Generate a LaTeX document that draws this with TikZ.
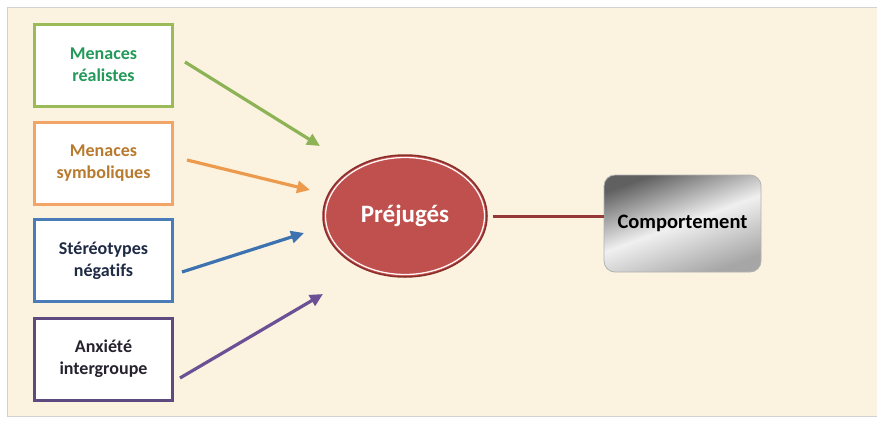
\documentclass[tikz,border=0pt]{standalone}
\usepackage{fontspec}
\setmainfont{Carlito}[Ligatures=NoCommon]
\usetikzlibrary{arrows.meta,shapes.geometric,shadows}
\definecolor{panel}{HTML}{FBF3DF}
\definecolor{gbord}{HTML}{9BBB59}
\definecolor{gtext}{HTML}{23995A}
\definecolor{obord}{HTML}{F2A566}
\definecolor{otext}{HTML}{B87A2E}
\definecolor{bbord}{HTML}{4A7DB8}
\definecolor{btext}{HTML}{1F2A44}
\definecolor{pbord}{HTML}{5F4A80}
\definecolor{ptext}{HTML}{26232E}
\definecolor{garrow}{HTML}{8DB356}
\definecolor{oarrow}{HTML}{EC9A4E}
\definecolor{barrow}{HTML}{3D72B0}
\definecolor{parrow}{HTML}{6C5096}
\definecolor{prejfill}{HTML}{C0504D}
\definecolor{prejdark}{HTML}{8A2E2C}
\definecolor{linkred}{HTML}{953838}
\begin{document}
\begin{tikzpicture}[x=1pt,y=-1pt,
  srcbox/.style={draw, line width=3pt, fill=white, minimum width=138pt, minimum height=82pt,
    align=center, inner sep=0pt, font=\bfseries\fontsize{18}{22}\selectfont},
  arr/.style={line width=3.2pt, -{Triangle[length=13pt,width=12pt]}}]
\useasboundingbox (0,0) rectangle (877,426);
\fill[white] (0,0) rectangle (877,426);
\draw[gray!35, fill=panel] (7,7) rectangle (877,416);

\node[srcbox, draw=gbord, text=gtext] (g) at (103.5,65) {Menaces\\réalistes};
\node[srcbox, draw=obord, text=otext] (o) at (103.5,163.5) {Menaces\\symboliques};
\node[srcbox, draw=bbord, text=btext] (b) at (103.5,260.5) {Stéréotypes\\négatifs};
\node[srcbox, draw=pbord, text=ptext] (u) at (103.5,359) {Anxiété\\intergroupe};

\node[ellipse, draw=prejdark, line width=1.5pt, fill=prejfill, minimum width=164pt, minimum height=122pt,
  inner sep=0pt, text=white, font=\bfseries\fontsize{25}{29}\selectfont] (p) at (405,216) {Préjugés};
\draw[white!85!pink, line width=1.3pt] (p.center) ellipse (79.5pt and 58.5pt);

\node[rounded corners=11pt, draw=gray!60, line width=0.8pt, minimum width=157pt, minimum height=97pt,
  top color=gray!75!black, bottom color=gray!70, middle color=gray!12, shading angle=20,
  inner sep=0pt, font=\bfseries\fontsize{20.5}{24}\selectfont, text=black] (c) at (682.5,223.5) {Comportement};

\coordinate (gs) at (185,62);  \coordinate (ge) at (320,146);
\coordinate (os) at (187,160); \coordinate (oe) at (310,190);
\coordinate (bs) at (182,272); \coordinate (be) at (304,233);
\coordinate (us) at (180,378); \coordinate (ue) at (323,294);

\draw[arr, garrow] (gs) -- (ge);
\draw[arr, oarrow] (os) -- (oe);
\draw[arr, barrow] (bs) -- (be);
\draw[arr, parrow] (us) -- (ue);

\draw[linkred, line width=3pt, shorten <=5pt] (p.east) -- (p.east -| c.west);
\end{tikzpicture}
\end{document}
